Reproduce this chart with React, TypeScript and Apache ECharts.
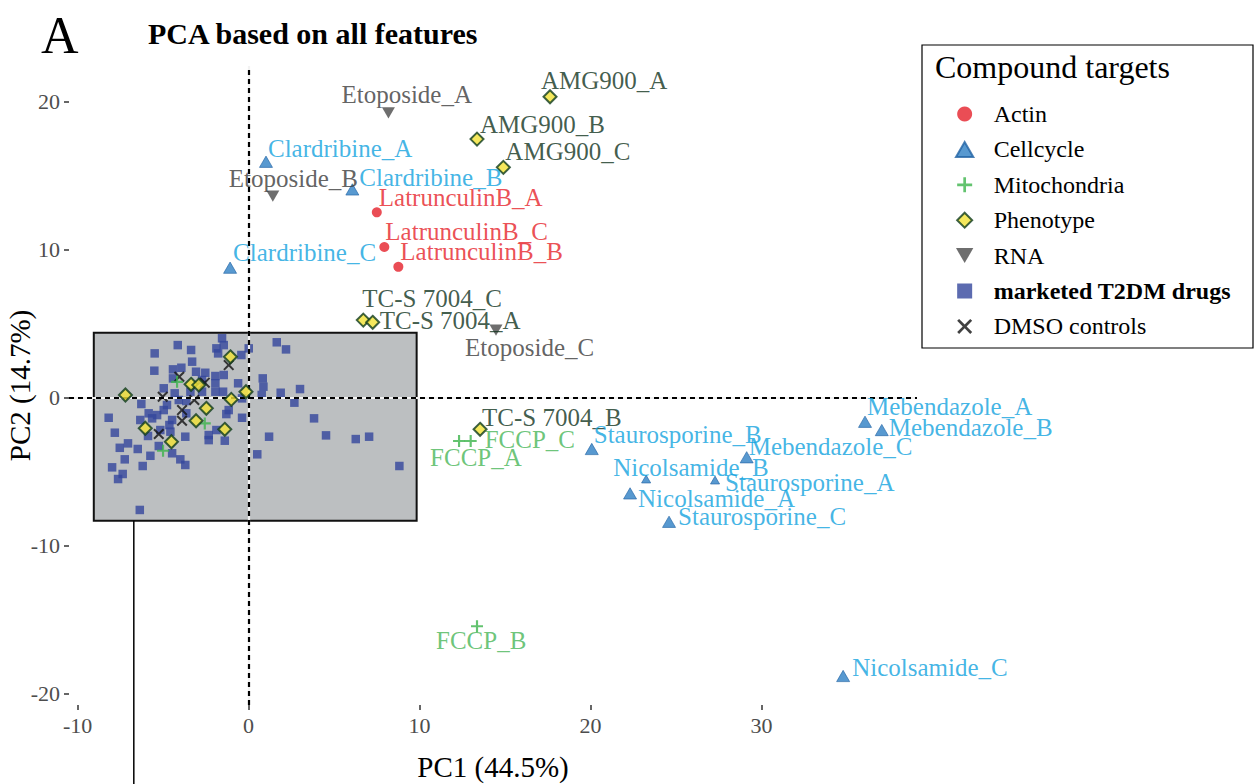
import React, { useEffect, useRef } from 'react';
import * as echarts from 'echarts';

// ---------- data ----------
const actinNames = ['LatrunculinB_A', 'LatrunculinB_C', 'LatrunculinB_B'];
const actinPC1 = [7.5, 7.94, 8.76];
const actinPC2 = [12.5, 10.16, 8.82];

const cellcycleNames = ['Clardribine_A', 'Clardribine_B', 'Clardribine_C', 'Staurosporine_B', 'Mebendazole_C', 'Nicolsamide_B', 'Staurosporine_A', 'Nicolsamide_A', 'Staurosporine_C', 'Mebendazole_A', 'Mebendazole_B', 'Nicolsamide_C'];
const cellcyclePC1 = [1.02, 6.07, -1.08, 20.07, 29.13, 23.25, 27.28, 22.31, 24.59, 36.05, 37.03, 34.77];
const cellcyclePC2 = [15.92, 14.05, 8.76, -3.49, -4.05, -5.52, -5.59, -6.49, -8.41, -1.65, -2.21, -18.83];

const mitoNames = ['FCCP_A', 'FCCP_C', 'FCCP_B', '', '', ''];
const mitoPC1 = [12.31, 12.99, 13.36, -4.18, -5.0, -2.56];
const mitoPC2 = [-2.95, -2.95, -15.47, 1.05, -3.61, -1.76];

const phenoNames = ['AMG900_A', 'AMG900_B', 'AMG900_C', 'TC-S 7004_C', 'TC-S 7004_A', 'TC-S 7004_B', '', '', '', '', '', '', '', '', '', '', ''];
const phenoPC1 = [17.63, 13.36, 14.9, 6.71, 7.26, 13.54, -1.06, -7.2, -3.36, -2.91, -0.15, -1.01, -2.47, -3.07, -6.04, -4.51, -1.39];
const phenoPC2 = [20.31, 17.45, 15.54, 5.22, 5.07, -2.16, 2.74, 0.16, 0.88, 0.83, 0.38, -0.14, -0.74, -1.58, -2.09, -3.0, -2.16];

const rnaNames = ['Etoposide_A', 'Etoposide_B', 'Etoposide_C'];
const rnaPC1 = [8.18, 1.42, 14.47];
const rnaPC2 = [19.23, 13.6, 4.55];

const dmsoPC1 = [-1.16, -4.05, -2.56, -5.02, -3.17, -3.89, -3.89, -5.25];
const dmsoPC2 = [2.18, 1.39, 0.99, 0.04, -0.18, -0.86, -1.58, -2.48];

const t2dmPC1 = [
  -1.55, -1.45, -4.14, -3.36, -1.88, -1.78, -5.49, 0.01, -0.42, -3.3,
  -5.51, -4.42, -3.93, -3.07, -2.53, -4.42, -1.94, -1.94, -0.61, -4.96,
  -4.32, -1.94, -1.49, -6.27, -4.08, -3.64, -4.77, -4.96, -0.38, -1.16,
  -1.3, -5.84, -5.35, -8.18, -6.33, -5.64, -4.47, -3.64, -0.38, -2.72,
  -2.72, -3.4, -1.45, -7.82, -7.53, -7.05, -6.48, -5.74, -7.24, -7.98,
  -6.19, -7.36, -7.63, -6.36, -4.63, -5.16, -5.88, -5.25, -4.47, -3.99,
  -3.7, -3.7, -2.33, -2.33, -1.39, -1.88, -4.57, 1.65, 2.19, 0.83,
  0.87, 0.77, 1.88, 3.01, 2.68, 3.83, 1.2, 0.51, 4.53, 6.27,
  7.05, 8.82,
];
const t2dmPC2 = [
  3.99, 3.53, 3.53, 3.2, 3.31, 2.97, 2.97, 3.31, 2.86, 2.41,
  1.8, 1.89, 2.0, 1.73, 1.66, 1.28, 1.44, 0.95, 0.95, 0.61,
  0.27, 0.38, 0.38, -0.45, -0.18, -0.25, -0.52, -0.86, -0.07, -0.86,
  -1.13, -1.08, -1.2, -1.38, -1.53, -1.42, -1.53, -1.08, -1.38, 1.17,
  0.38, 0.38, 1.51, -2.39, -3.41, -3.11, -3.49, -3.95, -4.19, -4.73,
  -4.64, -5.18, -5.52, -7.61, -1.87, -2.21, -2.61, -3.29, -3.78, -4.19,
  -4.57, -2.66, -2.55, -2.89, -2.93, -2.21, -2.32, 3.72, 3.24, 1.28,
  0.72, 0.16, 0.31, 0.56, -0.36, -1.42, -2.66, -3.85, -2.57, -2.82,
  -2.66, -4.64,
];

// zoom box annotation (data units) and its connector
const boxPC1 = [-9.05, 9.83];
const boxPC2 = [4.37, -8.34];
const connectorPC1 = -6.71;

const xTicks = [-10, 0, 10, 20, 30];
const yTicks = [-20, -10, 0, 10, 20];

const legendNames = ['Actin', 'Cellcycle', 'Mitochondria', 'Phenotype', 'RNA', 'marketed T2DM drugs', 'DMSO controls'];

// ---------- label placement (pixel offsets from the point) ----------
const labelOffsets: Record<string, [number, number]> = {
  LatrunculinB_A: [2, -15],
  LatrunculinB_C: [1, -15],
  LatrunculinB_B: [2, -15],
  Clardribine_A: [2, -13],
  Clardribine_B: [7, -12],
  Clardribine_C: [3, -15],
  Etoposide_A: [-47, -18],
  Etoposide_B: [-44, -18],
  Etoposide_C: [-31, 17],
  AMG900_A: [-9, -16],
  AMG900_B: [3, -15],
  AMG900_C: [2, -16],
  'TC-S 7004_C': [-1, -22],
  'TC-S 7004_A': [7, -2],
  'TC-S 7004_B': [2, -12],
  FCCP_C: [14, -1],
  FCCP_A: [-29, 17],
  FCCP_B: [-41, 14],
  Staurosporine_B: [2, -14],
  Mebendazole_C: [2, -11],
  Nicolsamide_B: [-33, -12],
  Staurosporine_A: [10, 2],
  Nicolsamide_A: [8, 5],
  Staurosporine_C: [9, -5],
  Mebendazole_A: [2, -15],
  Mebendazole_B: [7, -3],
  Nicolsamide_C: [9, -8],
};
const smallMarkers = ['Nicolsamide_B', 'Staurosporine_A'];

// ---------- styles ----------
const FONT = '"Liberation Serif", "Times New Roman", serif';
const TRI_UP = 'path://M5,0 L10,8.66 L0,8.66 Z';
const TRI_DOWN = 'path://M0,0 L10,0 L5,8.66 Z';
const PLUS = 'path://M4.1,0 H5.9 V4.1 H10 V5.9 H5.9 V10 H4.1 V5.9 H0 V4.1 H4.1 Z';
const CROSS = 'path://M1.3,0 L5,3.7 L8.7,0 L10,1.3 L6.3,5 L10,8.7 L8.7,10 L5,6.3 L1.3,10 L0,8.7 L3.7,5 L0,1.3 Z';
const DIAMOND_ICON = 'path://M5,0 L10,5 L5,10 L0,5 Z';
const SQUARE_ICON = 'path://M0,0 H10 V10 H0 Z';

function makeData(names: string[], xs: number[], ys: number[], size: number) {
  return xs.map((x, i) => {
    const n = names[i] || '';
    const item: any = { value: [x, ys[i]], name: n };
    if (n) {
      item.label = { show: true, offset: labelOffsets[n] || [2, -14] };
      if (smallMarkers.indexOf(n) >= 0) item.symbolSize = size * 0.7;
    } else {
      item.label = { show: false };
    }
    return item;
  });
}

function labelStyle(color: string) {
  return {
    show: false,
    position: 'inside',
    align: 'left',
    verticalAlign: 'middle',
    formatter: '{b}',
    color,
    fontSize: 25,
    fontFamily: FONT,
    textBorderWidth: 0,
  };
}

export default function App() {
  const ref = useRef<HTMLDivElement>(null);

  useEffect(() => {
    document.body.style.margin = '0';
    document.body.style.overflow = 'hidden';
    const chart = echarts.init(ref.current as HTMLDivElement, null, { renderer: 'svg' });

    const staticGraphics: any[] = [
      {
        id: 'panelLetter', type: 'text', x: 41, y: 35, z: 20,
        style: { text: 'A', fontSize: 52, fontFamily: FONT, fill: '#000', verticalAlign: 'middle', align: 'left' },
      },
      {
        id: 'legendBox', type: 'rect', z: 0,
        shape: { x: 922, y: 45, width: 331, height: 303 },
        style: { fill: '#fff', stroke: '#000', lineWidth: 1.2 },
      },
      {
        id: 'legendTitle', type: 'text', x: 935, y: 67, z: 20,
        style: { text: 'Compound targets', fontSize: 32, fontFamily: FONT, fill: '#000', verticalAlign: 'middle', align: 'left' },
      },
    ];

    const option: any = {
      animation: false,
      backgroundColor: '#fff',
      title: {
        text: 'PCA based on all features',
        left: 148,
        top: 18,
        padding: 0,
        textStyle: { fontSize: 30, fontWeight: 'bold', fontFamily: FONT, color: '#000', lineHeight: 30 },
      },
      grid: { left: 69, right: 337, top: 66, bottom: 79, containLabel: false, outerBoundsMode: 'none' },
      xAxis: {
        type: 'value',
        min: -10.5,
        max: 39.09,
        name: 'PC1 (44.5%)',
        nameLocation: 'middle',
        nameGap: 47,
        nameMoveOverlap: false,
        nameTextStyle: { fontSize: 29, fontFamily: FONT, color: '#000' },
        axisLine: { show: false, onZero: false },
        splitLine: { show: false },
        axisTick: { show: true, customValues: xTicks, length: 5, lineStyle: { color: '#333', width: 1.5 } },
        axisLabel: { customValues: xTicks, fontSize: 22, fontFamily: FONT, color: '#4d4d4d', margin: 9 },
      },
      yAxis: {
        type: 'value',
        min: -20.79,
        max: 22.39,
        name: 'PC2 (14.7%)',
        nameLocation: 'middle',
        nameGap: 35,
        nameMoveOverlap: false,
        nameTextStyle: { fontSize: 29, fontFamily: FONT, color: '#000' },
        axisLine: { show: false, onZero: false },
        splitLine: { show: false },
        axisTick: { show: true, customValues: yTicks, length: 5, lineStyle: { color: '#333', width: 1.5 } },
        axisLabel: { customValues: yTicks, fontSize: 22, fontFamily: FONT, color: '#4d4d4d', margin: 9 },
      },
      legend: {
        orient: 'vertical',
        left: 955,
        top: 102,
        padding: 0,
        itemWidth: 48,
        itemHeight: 15,
        itemGap: 11.4,
        data: legendNames.map((n) => {
          if (n === 'Phenotype') return { name: n, icon: DIAMOND_ICON };
          if (n === 'marketed T2DM drugs') return { name: n, icon: SQUARE_ICON };
          return { name: n };
        }),
        textStyle: {
          fontSize: 24, fontFamily: FONT, color: '#000', lineHeight: 24,
          rich: { b: { fontSize: 24, fontFamily: FONT, fontWeight: 'bold', color: '#000', lineHeight: 24 } },
        },
        formatter: (n: string) => (n === 'marketed T2DM drugs' ? '{b|' + n + '}' : n),
        selectedMode: false,
      },
      graphic: staticGraphics,
      series: [
        {
          name: 'box',
          type: 'scatter',
          data: [],
          z: 1,
          silent: true,
          markArea: {
            silent: true,
            itemStyle: { color: '#bcbfc1', borderColor: '#111', borderWidth: 2 },
            label: { show: false },
            data: [[{ coord: [boxPC1[0], boxPC2[0]] }, { coord: [boxPC1[1], boxPC2[1]] }]],
          },
        },
        {
          name: 'refLines',
          type: 'scatter',
          data: [],
          z: 2,
          silent: true,
          markLine: {
            silent: true,
            symbol: 'none',
            label: { show: false },
            data: [
              { xAxis: 0, lineStyle: { color: '#f2f2f2', type: 'solid', width: 2.2 } },
              { yAxis: 0, lineStyle: { color: '#f2f2f2', type: 'solid', width: 2.2 } },
              { xAxis: 0, lineStyle: { color: '#000', type: [5, 4], width: 2.2 } },
              { yAxis: 0, lineStyle: { color: '#000', type: [5, 4], width: 2.2 } },
            ],
          },
        },
        {
          name: 'marketed T2DM drugs',
          type: 'scatter',
          z: 3,
          symbol: 'rect',
          symbolSize: 8.5,
          itemStyle: { color: '#33469c' },
          data: t2dmPC1.map((x, i) => [x, t2dmPC2[i]]),
        },
        {
          name: 'DMSO controls',
          type: 'scatter',
          z: 4,
          symbol: CROSS,
          symbolSize: 11,
          itemStyle: { color: '#111' },
          data: dmsoPC1.map((x, i) => [x, dmsoPC2[i]]),
        },
        {
          name: 'Mitochondria',
          type: 'scatter',
          z: 5,
          symbol: PLUS,
          symbolSize: 12,
          itemStyle: { color: '#3cb44b' },
          label: labelStyle('#47b657'),
          data: makeData(mitoNames, mitoPC1, mitoPC2, 12),
        },
        {
          name: 'Phenotype',
          type: 'scatter',
          z: 6,
          symbol: 'diamond',
          symbolSize: 13,
          itemStyle: { color: '#f3e235', borderColor: '#0e3b1c', borderWidth: 2 },
          label: labelStyle('#10331d'),
          data: makeData(phenoNames, phenoPC1, phenoPC2, 13),
        },
        {
          name: 'RNA',
          type: 'scatter',
          z: 6,
          symbol: TRI_DOWN,
          symbolKeepAspect: true,
          symbolSize: 13,
          itemStyle: { color: '#4a4a4a' },
          label: labelStyle('#3a3a3a'),
          data: makeData(rnaNames, rnaPC1, rnaPC2, 13),
        },
        {
          name: 'Cellcycle',
          type: 'scatter',
          z: 6,
          symbol: TRI_UP,
          symbolKeepAspect: true,
          symbolSize: 13,
          itemStyle: { color: '#2e80c4', borderColor: '#2263a4', borderWidth: 0.8 },
          label: labelStyle('#12a2de'),
          data: makeData(cellcycleNames, cellcyclePC1, cellcyclePC2, 13),
        },
        {
          name: 'Actin',
          type: 'scatter',
          z: 6,
          symbol: 'circle',
          symbolSize: 10,
          itemStyle: { color: '#e5202a' },
          label: labelStyle('#e62229'),
          data: makeData(actinNames, actinPC1, actinPC2, 10),
        },
      ],
    };

    chart.setOption(option);

    const p = chart.convertToPixel({ gridIndex: 0 }, [connectorPC1, boxPC2[1]]) as number[];
    if (p && isFinite(p[0])) {
      chart.setOption({
        graphic: [
          ...staticGraphics,
          {
            id: 'connector', type: 'line', z: 10,
            shape: { x1: p[0], y1: p[1], x2: p[0], y2: 784 },
            style: { stroke: '#000', lineWidth: 1.5 },
          },
        ],
      });
    }

    return () => chart.dispose();
  }, []);

  return <div ref={ref} style={{ width: 1254, height: 784 }} />;
}
